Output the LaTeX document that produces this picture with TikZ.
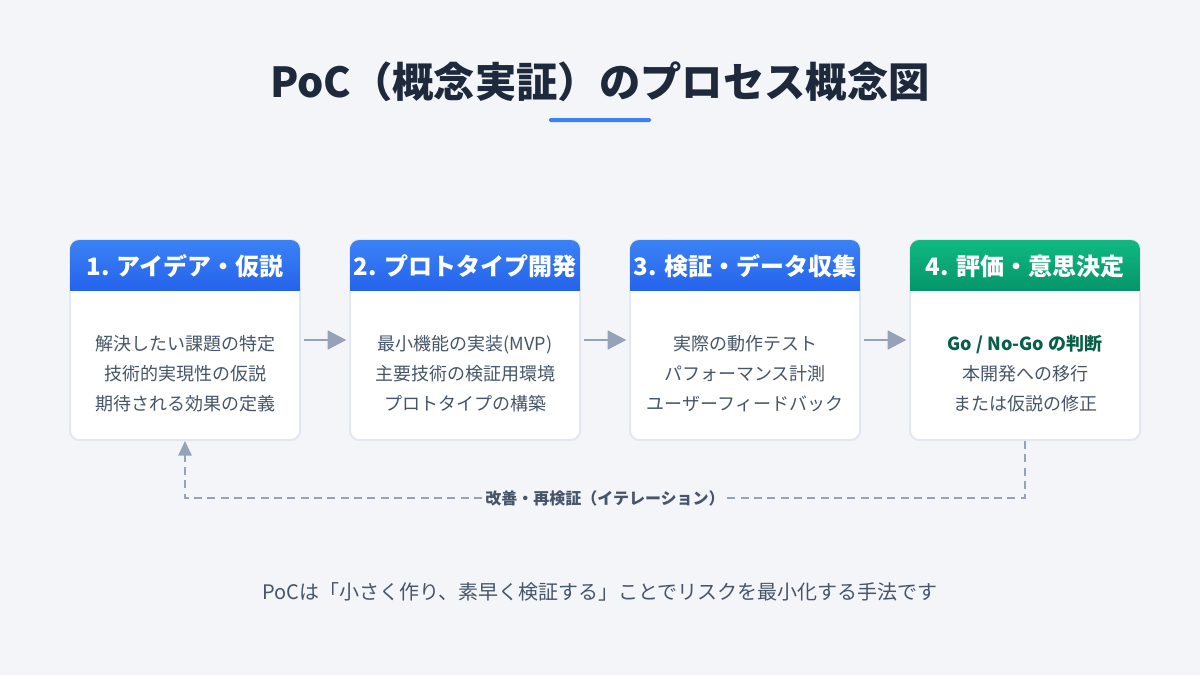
\documentclass[tikz,border=0pt]{standalone}
\usepackage{fontspec}
\setmainfont{Noto Sans CJK JP}
\usetikzlibrary{arrows.meta}
\definecolor{bgcol}{HTML}{F3F5F9}
\definecolor{titlecol}{HTML}{1E293B}
\definecolor{bluetop}{HTML}{3B82F6}
\definecolor{bluebot}{HTML}{2563EB}
\definecolor{greentop}{HTML}{10B981}
\definecolor{greenbot}{HTML}{059669}
\definecolor{textcol}{HTML}{475569}
\definecolor{linecol}{HTML}{94A3B8}
\definecolor{bordercol}{HTML}{E2E8F0}
\definecolor{gocol}{HTML}{065F46}
\tikzset{
  box/.style={draw=bordercol, line width=1.5pt, fill=white, rounded corners=7pt,
    minimum width=172.5pt, minimum height=150pt, inner sep=0pt},
  head/.style={text=white, font=\bfseries\fontsize{18}{22}\selectfont, inner sep=0pt},
  body/.style={text=textcol, font=\fontsize{13.5}{22.5}\selectfont, align=center, inner sep=0pt},
  flow/.style={draw=linecol, line width=2.2pt, -{Triangle[length=14pt,width=14pt]}},
  iter/.style={draw=linecol, line width=1.5pt, dash pattern=on 6pt off 4pt,
    -{Triangle[length=11pt,width=10pt]}},
}
\begin{document}
\begin{tikzpicture}[x=0.75pt,y=-0.75pt]
  \fill[bgcol] (0,0) rectangle (1200,675);
  \useasboundingbox (0,0) rectangle (1200,675);
  % title
  \node[text=titlecol, font=\bfseries\fontsize{31}{36}\selectfont] (title) at (600,82) {PoC（概念実証）のプロセス概念図};
  \fill[bluetop, rounded corners=1pt] (549,118) rectangle (651,122);
  % boxes
  \node[box] (box1) at (185,340) {};
  \node[box] (box2) at (465,340) {};
  \node[box] (box3) at (745,340) {};
  \node[box] (box4) at (1025,340) {};
  % header bands
  \begin{scope}
    \clip[rounded corners=7pt] (70,240) rectangle (300,440);
    \shade[top color=bluetop, bottom color=bluebot] (70,240) rectangle (300,290);
  \end{scope}
  \begin{scope}
    \clip[rounded corners=7pt] (350,240) rectangle (580,440);
    \shade[top color=bluetop, bottom color=bluebot] (350,240) rectangle (580,290);
  \end{scope}
  \begin{scope}
    \clip[rounded corners=7pt] (630,240) rectangle (860,440);
    \shade[top color=bluetop, bottom color=bluebot] (630,240) rectangle (860,290);
  \end{scope}
  \begin{scope}
    \clip[rounded corners=7pt] (910,240) rectangle (1140,440);
    \shade[top color=greentop, bottom color=greenbot] (910,240) rectangle (1140,290);
  \end{scope}
  \node[head] (head1) at (185,266) {1. アイデア・仮説};
  \node[head] (head2) at (465,266) {2. プロトタイプ開発};
  \node[head] (head3) at (745,266) {3. 検証・データ収集};
  \node[head] (head4) at (1025,266) {4. 評価・意思決定};
  % texts
  \node[body] (text1) at (185,374) {解決したい課題の特定\\技術的実現性の仮説\\期待される効果の定義};
  \node[body] (text2) at (465,374) {最小機能の実装(MVP)\\主要技術の検証用環境\\プロトタイプの構築};
  \node[body] (text3) at (745,374) {実際の動作テスト\\パフォーマンス計測\\ユーザーフィードバック};
  \node[body] (text4) at (1025,374) {\textcolor{gocol}{\bfseries Go / No-Go の判断}\\本開発への移行\\または仮説の修正};
  % arrows
  \draw[flow] ([xshift=2pt]box1.east) -- ([xshift=-2pt]box2.west);
  \draw[flow] ([xshift=2pt]box2.east) -- ([xshift=-2pt]box3.west);
  \draw[flow] ([xshift=2pt]box3.east) -- ([xshift=-2pt]box4.west);
  % iteration loop
  \coordinate (turn4) at (1025,498);
  \coordinate (turn1) at (185,498);
  \draw[iter] (box4.south) -- (turn4) -- node[fill=bgcol, text=textcol, inner sep=2pt,
    font=\bfseries\fontsize{12}{14}\selectfont] (looplabel) {改善・再検証（イテレーション）} (turn1) -- (box1.south);
  % footer
  \node[text=textcol, font=\fontsize{15}{18}\selectfont] (footer) at (600,592) {PoCは「小さく作り、素早く検証する」ことでリスクを最小化する手法です};
\end{tikzpicture}
\end{document}
